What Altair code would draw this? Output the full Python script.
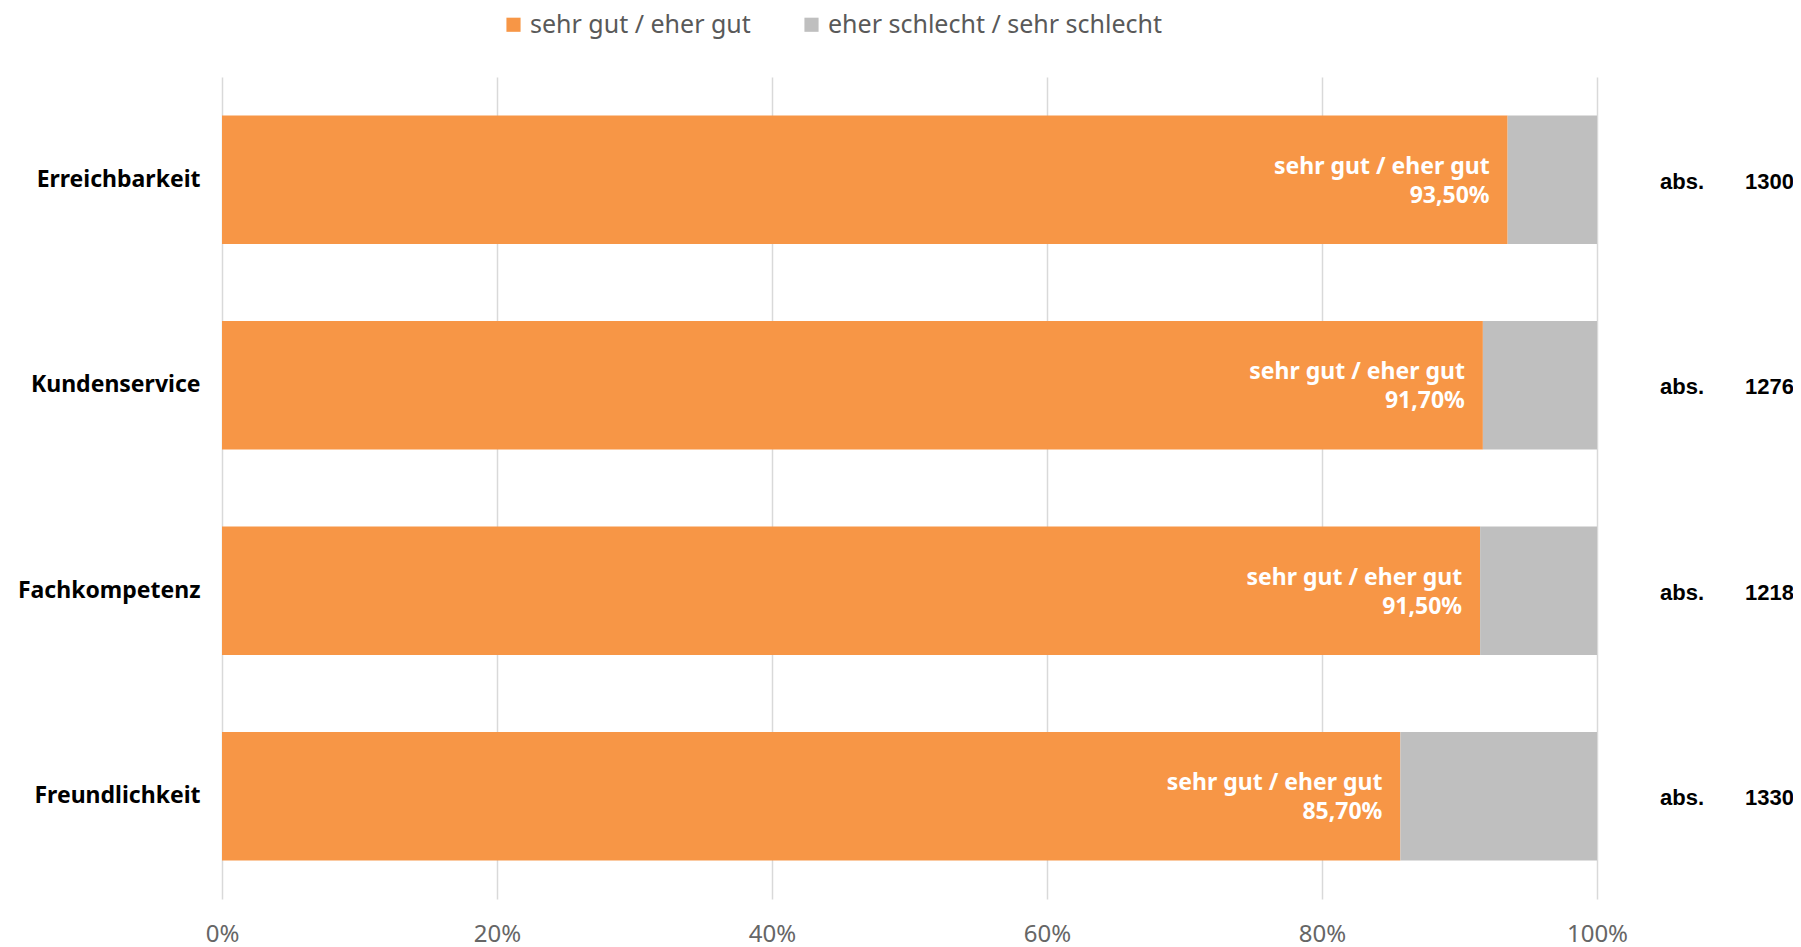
import altair as alt
import pandas as pd

categories = ["Erreichbarkeit", "Kundenservice", "Fachkompetenz", "Freundlichkeit"]
good_values = [93.5, 91.7, 91.5, 85.7]
abs_values = [1300, 1276, 1218, 1330]
series = ["sehr gut / eher gut", "eher schlecht / sehr schlecht"]
colors = ["#F79646", "#BFBFBF"]
x_ticks = [0, 20, 40, 60, 80, 100]

rows = []
for c, g in zip(categories, good_values):
    rows.append({"cat": c, "series": series[0], "value": g, "ord": 0})
    rows.append({"cat": c, "series": series[1], "value": round(100 - g, 2), "ord": 1})
df = pd.DataFrame(rows)

lab = pd.DataFrame({
    "cat": categories,
    "value": good_values,
    "line1": [series[0]] * len(categories),
    "line2": [f"{v:.2f}".replace(".", ",") + "%" for v in good_values],
    "abs": [str(a) for a in abs_values],
    "abslab": ["abs."] * len(categories),
})

W, H = 1375, 822

y_enc = alt.Y("cat:N", sort=categories, title=None,
              scale=alt.Scale(paddingInner=0.375, paddingOuter=0.1875),
              axis=alt.Axis(domain=False, ticks=False, grid=False, labelFont="Noto Sans",
                            labelFontWeight="bold", labelFontSize=23,
                            labelColor="#000000", labelPadding=22, labelLimit=300))

bars = alt.Chart(df).mark_bar().encode(
    x=alt.X("value:Q", stack="zero", title=None,
            scale=alt.Scale(domain=[0, 100], nice=False),
            axis=alt.Axis(values=x_ticks, labelExpr="datum.value + '%'",
                          domain=False, ticks=False, grid=True,
                          gridColor="#D9D9D9", gridWidth=1.5,
                          labelFont="Noto Sans", labelFontSize=24,
                          labelColor="#666666", labelPadding=23,
                          labelFlush=False)),
    y=y_enc,
    color=alt.Color("series:N", scale=alt.Scale(domain=series, range=colors),
                    legend=alt.Legend(title=None, orient="none", direction="horizontal",
                                      legendX=279, legendY=-65,
                                      symbolType="square", symbolSize=200,
                                      symbolStrokeWidth=0, symbolOpacity=1,
                                      labelFont="Noto Sans", labelFontSize=25,
                                      labelColor="#595959", columnPadding=48,
                                      labelOffset=4, labelLimit=500)),
    order=alt.Order("ord:Q"),
)

base = alt.Chart(lab).encode(y=alt.Y("cat:N", sort=categories))

t1 = base.mark_text(align="right", baseline="middle", dx=-18, dy=-13,
                    font="Noto Sans", fontWeight="bold", fontSize=23,
                    color="white").encode(x="value:Q", text="line1:N")
t2 = base.mark_text(align="right", baseline="middle", dx=-18, dy=16,
                    font="Noto Sans", fontWeight="bold", fontSize=23,
                    color="white").encode(x="value:Q", text="line2:N")
a1 = base.mark_text(align="left", baseline="middle", dy=2,
                    font="Liberation Sans", fontWeight="bold", fontSize=22,
                    color="black").encode(x=alt.value(1438), text="abslab:N")
a2 = base.mark_text(align="right", baseline="middle", dy=2,
                    font="Liberation Sans", fontWeight="bold", fontSize=22,
                    color="black").encode(x=alt.value(1572), text="abs:N")

chart = alt.layer(bars, t1, t2, a1, a2).properties(
    width=W, height=H,
    background="white",
    autosize=alt.AutoSizeParams(type="none"),
    padding={"left": 214, "top": 69, "right": 196, "bottom": 60},
).configure_view(strokeWidth=0, stroke="transparent")

chart.save("out.html", embed_options={"renderer": "svg", "actions": False})
